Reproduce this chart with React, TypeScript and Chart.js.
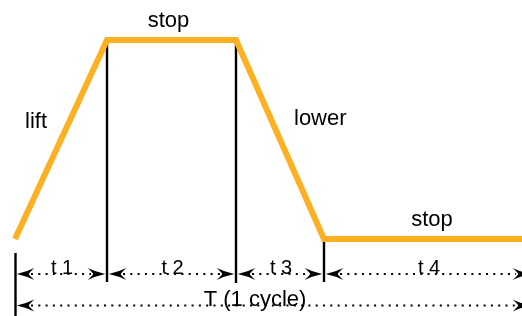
import React, { useEffect, useRef } from "react";
import { Chart, registerables } from "chart.js";

Chart.register(...registerables);

// Phase boundaries of one cycle (time units) and lift level at each boundary
const phaseTimes = [0, 92, 221, 309, 507];
const liftLevels = [0, 1, 1, 0, 0];
const phaseLabels = ["lift", "stop", "lower", "stop"];
const intervalLabels = ["t 1", "t 2", "t 3", "t 4"];
const cycleLabel = "T (1 cycle)";
const cycleEnd = 517; // end of the 4th interval / cycle (beyond visible range)

const ORANGE = "#FDB022";
const FONT = "'Liberation Sans', Arial, Helvetica, sans-serif";

const diagramPlugin = {
  id: "diagram",
  beforeDatasetsDraw(chart: any) {
    const { ctx, scales } = chart;
    const xs = scales.x;
    const ys = scales.y;
    const px = (t: number) => xs.getPixelForValue(t);
    const yHigh = ys.getPixelForValue(1);
    const yLow = ys.getPixelForValue(0);
    const row1 = yLow + 35;
    const row2 = yLow + 66.5;
    const bottom = chart.height;

    const bounds = [...phaseTimes.slice(0, 4), cycleEnd].map(px);

    ctx.save();
    ctx.strokeStyle = "#000";
    ctx.lineWidth = 2.4;
    ctx.lineCap = "butt";
    const vline = (x: number, y1: number, y2: number) => {
      ctx.beginPath();
      ctx.moveTo(x, y1);
      ctx.lineTo(x, y2);
      ctx.stroke();
    };
    vline(bounds[0] + 0.5, yLow + 14, bottom);
    vline(bounds[1], yHigh + 2, row1 + 8);
    vline(bounds[2], yHigh + 2, row1 + 9);
    vline(bounds[3], yLow + 2, row1 + 8);

    const arrow = (x: number, y: number, dir: number) => {
      const L = 17.5;
      const h = 6;
      ctx.beginPath();
      ctx.moveTo(x, y);
      ctx.quadraticCurveTo(x + dir * L * 0.55, y - h * 0.35, x + dir * L, y - h);
      ctx.quadraticCurveTo(x + dir * L * 0.7, y - h * 0.2, x + dir * L * 0.68, y);
      ctx.quadraticCurveTo(x + dir * L * 0.7, y + h * 0.2, x + dir * L, y + h);
      ctx.quadraticCurveTo(x + dir * L * 0.55, y + h * 0.35, x, y);
      ctx.closePath();
      ctx.fillStyle = "#000";
      ctx.fill();
    };
    const dotted = (x1: number, x2: number, y: number) => {
      ctx.save();
      ctx.setLineDash([2, 5.3]);
      ctx.lineWidth = 2;
      ctx.beginPath();
      ctx.moveTo(x1, y);
      ctx.lineTo(x2, y);
      ctx.stroke();
      ctx.restore();
    };
    const dimension = (x1: number, x2: number, y: number) => {
      dotted(x1 + 16, x2 - 16, y);
      arrow(x1 + 1.8, y, 1);
      arrow(x2 - 1.8, y, -1);
    };

    ctx.fillStyle = "#000";
    ctx.textBaseline = "alphabetic";
    ctx.textAlign = "center";
    for (let i = 0; i < 4; i++) {
      dimension(bounds[i], bounds[i + 1], row1);
      ctx.font = `20px ${FONT}`;
      ctx.fillStyle = "#000";
      ctx.fillText(intervalLabels[i], (bounds[i] + bounds[i + 1]) / 2 + 1, row1 + 0.5);
    }
    dimension(bounds[0], bounds[4], row2);
    ctx.font = `22px ${FONT}`;
    ctx.fillText(cycleLabel, 255, row2 + 0.5);

    // phase labels
    ctx.font = `22px ${FONT}`;
    const mid = (i: number) => ({
      x: (px(phaseTimes[i]) + px(phaseTimes[i + 1])) / 2,
      y: (ys.getPixelForValue(liftLevels[i]) + ys.getPixelForValue(liftLevels[i + 1])) / 2,
    });
    let m = mid(0);
    ctx.textAlign = "right";
    ctx.fillText(phaseLabels[0], m.x - 14, m.y - 11);
    m = mid(1);
    ctx.textAlign = "center";
    ctx.fillText(phaseLabels[1], m.x - 3, m.y - 13);
    m = mid(2);
    ctx.textAlign = "left";
    ctx.fillText(phaseLabels[2], m.x + 14, m.y - 14.5);
    ctx.textAlign = "center";
    ctx.fillText(phaseLabels[3], 432, yLow - 13);
    ctx.restore();
  },
};

export default function App() {
  const ref = useRef<HTMLCanvasElement | null>(null);
  useEffect(() => {
    if (!ref.current) return;
    const chart = new Chart(ref.current, {
      type: "line",
      data: {
        datasets: [
          {
            data: phaseTimes.map((t, i) => ({ x: t, y: liftLevels[i] })),
            borderColor: ORANGE,
            borderWidth: 6,
            pointRadius: 0,
            tension: 0,
            borderJoinStyle: "miter",
            borderCapStyle: "butt",
            clip: false,
          } as any,
        ],
      },
      options: {
        animation: false,
        responsive: false,
        maintainAspectRatio: false,
        layout: { padding: 0 },
        plugins: { legend: { display: false }, tooltip: { enabled: false } },
        scales: {
          x: { type: "linear", display: false, min: -15, max: 507 },
          y: { type: "linear", display: false, min: -0.387, max: 1.201 },
        },
      },
      plugins: [diagramPlugin],
    });
    return () => chart.destroy();
  }, []);
  return (
    <div style={{ position: "fixed", left: 0, top: 0, width: 522, height: 316, background: "#fff" }}>
      <canvas ref={ref} width={522} height={316} style={{ display: "block" }} />
    </div>
  );
}
